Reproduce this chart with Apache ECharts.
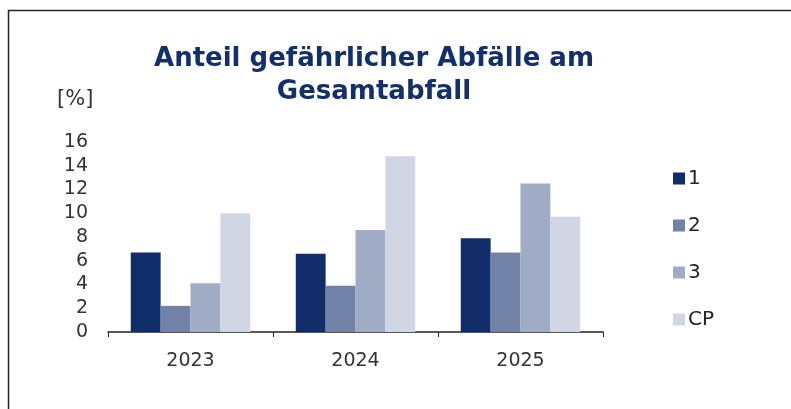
<!DOCTYPE html>
<html>
<head>
<meta charset="utf-8">
<script src="https://cdn.jsdelivr.net/npm/echarts@6/dist/echarts.min.js"></script>
<style>
  html, body { margin: 0; padding: 0; background: #fff; }
  #chart { width: 791px; height: 409px; }
</style>
</head>
<body>
<div id="chart"></div>
<script>
// Daten
const jahre = ['2023', '2024', '2025'];
const werte1 = [6.7, 6.6, 7.9];
const werte2 = [2.2, 3.9, 6.7];
const werte3 = [4.1, 8.6, 12.5];
const werteCP = [10.0, 14.8, 9.7];
const serienNamen = ['1', '2', '3', 'CP'];
const farben = ['#112d69', '#7182a6', '#a0acc5', '#d0d6e3'];

const getOption = () => {
  const reihen = [werte1, werte2, werte3, werteCP];
  return {
    animation: false,
    color: farben,
    title: {
      text: 'Anteil gefährlicher Abfälle am\nGesamtabfall',
      left: 369,
      top: 38,
      textAlign: 'center',
      textStyle: {
        fontFamily: 'DejaVu Sans',
        fontWeight: 'bold',
        fontSize: 26,
        lineHeight: 33,
        color: '#13306b'
      }
    },
    graphic: [
      {
        type: 'rect',
        shape: { x: 8.5, y: 10.5, width: 900, height: 500 },
        style: { fill: 'none', stroke: '#222', lineWidth: 1.5 }
      },
      {
        type: 'text',
        left: 57,
        top: 89,
        style: { text: '[%]', font: '21px "DejaVu Sans"', fill: '#333' }
      }
    ],
    legend: {
      orient: 'vertical',
      left: 668,
      top: 163,
      itemWidth: 12,
      itemHeight: 12,
      itemGap: 26,
      icon: 'rect',
      data: serienNamen,
      textStyle: {
        fontFamily: 'DejaVu Sans',
        fontSize: 20,
        lineHeight: 21,
        color: '#222',
        padding: [0, 0, 0, -2]
      }
    },
    grid: {
      left: 108,
      right: 188,
      top: 142,
      bottom: 77
    },
    xAxis: {
      type: 'category',
      data: jahre,
      axisLine: { lineStyle: { color: '#222', width: 1.5 } },
      axisTick: { show: true, length: 5, lineStyle: { color: '#222' } },
      axisLabel: {
        fontFamily: 'DejaVu Sans',
        fontSize: 19,
        color: '#333',
        margin: 20
      }
    },
    yAxis: {
      type: 'value',
      min: 0,
      max: 16,
      interval: 2,
      splitLine: { show: false },
      axisLine: { show: false },
      axisTick: { show: false },
      axisLabel: {
        fontFamily: 'DejaVu Sans',
        fontSize: 19,
        color: '#333',
        margin: 20
      }
    },
    series: reihen.map((werte, i) => ({
      name: serienNamen[i],
      type: 'bar',
      data: werte,
      barGap: '0%',
      barCategoryGap: '27.6%',
      itemStyle: { color: farben[i] }
    }))
  };
};

const chart = echarts.init(document.getElementById('chart'));
chart.setOption(getOption());
</script>
</body>
</html>
